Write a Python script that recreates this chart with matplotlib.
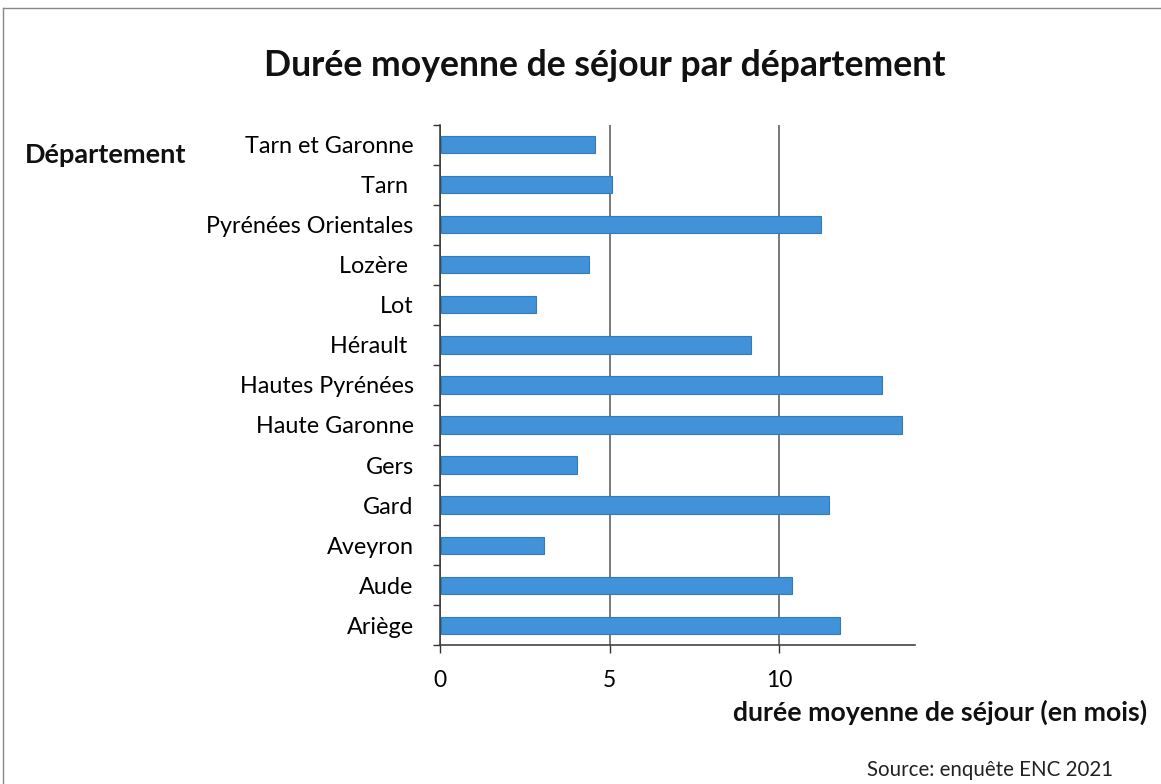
import matplotlib
matplotlib.use("Agg")
import matplotlib.pyplot as plt
import numpy as np
from matplotlib.lines import Line2D

plt.rcParams['font.family'] = ['Lato', 'DejaVu Sans']

# bottom to top, as in the chart
departements = ["Ariège", "Aude", "Aveyron", "Gard", "Gers", "Haute Garonne",
                "Hautes Pyrénées", "Hérault ", "Lot", "Lozère ",
                "Pyrénées Orientales", "Tarn ", "Tarn et Garonne"]
duree = [11.75, 10.35, 3.05, 11.45, 4.0, 13.6, 13.0, 9.15, 2.8, 4.35, 11.2, 5.05, 4.55]
xticks = [0, 5, 10]

fig = plt.figure(figsize=(11.61, 7.84), dpi=100)
ax = fig.add_axes([0.379, 0.177, 0.409, 0.664])

y = np.arange(len(departements))
ax.barh(y, duree, height=0.43, left=0.03, color="#4192d8",
        edgecolor="#2f7cc0", linewidth=0.8, zorder=3)

ax.set_xlim(0, 14)
ax.set_ylim(-0.5, len(departements) - 0.5)
ax.set_xticks(xticks)
ax.set_xticklabels([str(t) for t in xticks], fontsize=16.5)
ax.set_yticks(y)
ax.set_yticklabels(departements, fontsize=16.8)
ax.tick_params(axis="y", length=0, pad=19)
ax.set_yticks(np.arange(len(departements) + 1) - 0.5, minor=True)
ax.tick_params(axis="y", which="minor", length=5, width=1, color="#333333")
ax.tick_params(axis="x", length=6, width=1, color="#333333", pad=12)

ax.grid(axis="x", color="#555555", linewidth=1.1, zorder=0)
for s in ["top", "right"]:
    ax.spines[s].set_visible(False)
for s in ["left", "bottom"]:
    ax.spines[s].set_color("#333333")
    ax.spines[s].set_linewidth(1.1)

fig.text(0.521, 0.917, "Durée moyenne de séjour par département",
         ha="center", va="center", fontsize=25.7, fontweight="bold", color="#111111")
fig.text(0.021, 0.802, "Département", ha="left", va="center",
         fontsize=19.5, fontweight="bold", color="#111111")
fig.text(0.988, 0.092, "durée moyenne de séjour (en mois)", ha="right", va="center",
         fontsize=19.2, fontweight="bold", color="#111111")
fig.text(0.959, 0.018, "Source: enquête ENC 2021", ha="right", va="center",
         fontsize=14.8, color="#222222")

# scan border (left and top)
fig.add_artist(Line2D([0.003, 0.003], [0.0, 0.99], transform=fig.transFigure,
                      color="#888888", linewidth=1))
fig.add_artist(Line2D([0.003, 1.0], [0.99, 0.99], transform=fig.transFigure,
                      color="#888888", linewidth=1))

fig.savefig("out.png", dpi=100)
